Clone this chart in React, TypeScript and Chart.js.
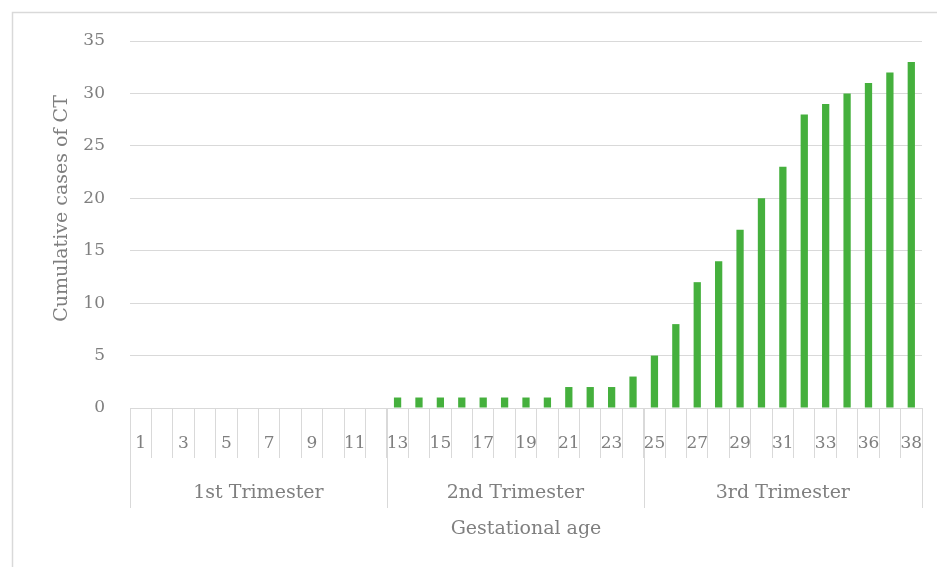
import React, { useEffect, useRef } from "react";
import { Chart, registerables } from "chart.js";

Chart.register(...registerables);

const categories = [
  "1", "2", "3", "4", "5", "6", "7", "8", "9", "10", "11", "12",
  "13", "14", "15", "16", "17", "18", "19", "20", "21", "22", "23", "24",
  "25", "26", "27", "28", "29", "30", "31", "32", "33", "34", "36", "37", "38",
];
const cumulativeCases = [
  0, 0, 0, 0, 0, 0, 0, 0, 0, 0, 0, 0,
  1, 1, 1, 1, 1, 1, 1, 1, 2, 2, 2, 3,
  5, 8, 12, 14, 17, 20, 23, 28, 29, 30, 31, 32, 33,
];
const groupLabels = ["1st Trimester", "2nd Trimester", "3rd Trimester"];
const groupSizes = [12, 12, 13];
const yTitle = "Cumulative cases of CT";
const xTitle = "Gestational age";

const FONT = "'DejaVu Serif', 'Liberation Serif', serif";
const TEXT = "#7f7f7f";
const LINE = "#d9d9d9";

const groupPlugin = {
  id: "groups",
  beforeDraw(chart: any) {
    const ctx = chart.ctx;
    ctx.save();
    ctx.fillStyle = "#ffffff";
    ctx.fillRect(0, 0, chart.width, chart.height);
    ctx.strokeStyle = LINE;
    ctx.lineWidth = 1.5;
    ctx.strokeRect(12.5, 12.5, chart.width + 20, chart.height + 20);
    ctx.restore();
  },
  afterDraw(chart: any) {
    const ctx = chart.ctx;
    const x = chart.scales.x;
    const y = chart.scales.y;
    const top = x.top;
    const step = (x.right - x.left) / categories.length;
    ctx.save();
    ctx.strokeStyle = LINE;
    ctx.lineWidth = 1;
    ctx.fillStyle = TEXT;
    ctx.font = `19px ${FONT}`;
    ctx.textAlign = "center";
    ctx.textBaseline = "middle";
    let start = 0;
    const bounds: number[] = [];
    groupSizes.forEach((n, gi) => {
      const l = x.getPixelForValue(start) - step / 2;
      const r = x.getPixelForValue(start + n - 1) + step / 2;
      bounds.push(l);
      if (gi === groupSizes.length - 1) bounds.push(r);
      ctx.fillText(groupLabels[gi], (l + r) / 2, top + 85);
      start += n;
    });
    bounds.forEach((b) => {
      const bx = Math.round(b) + 0.5;
      ctx.beginPath();
      ctx.moveTo(bx, top);
      ctx.lineTo(bx, top + 100);
      ctx.stroke();
    });
    // y-axis title
    ctx.translate(62, (y.top + y.bottom) / 2 - 16);
    ctx.rotate(-Math.PI / 2);
    ctx.fillText(yTitle, 0, 0);
    ctx.restore();
  },
};

export default function App() {
  const ref = useRef<HTMLCanvasElement>(null);
  useEffect(() => {
    if (!ref.current) return;
    const chart = new Chart(ref.current, {
      type: "bar",
      data: {
        labels: categories,
        datasets: [
          {
            label: yTitle,
            data: cumulativeCases,
            backgroundColor: "#45b03d",
            categoryPercentage: 1,
            barPercentage: 0.34,
          },
        ],
      },
      options: {
        animation: false,
        responsive: false,
        maintainAspectRatio: false,
        layout: { padding: { top: 41, right: 15, left: 0, bottom: 0 } },
        plugins: { legend: { display: false }, tooltip: { enabled: false } },
        scales: {
          x: {
            afterFit: (s: any) => {
              s.height = 159;
            },
            grid: {
              color: LINE,
              drawOnChartArea: false,
              offset: true,
              tickLength: 50,
            },
            border: { color: LINE },
            ticks: {
              autoSkip: false,
              maxRotation: 0,
              padding: -25,
              color: TEXT,
              font: { family: FONT, size: 17 },
              callback: (_v: any, i: number) => (i % 2 === 0 ? categories[i] : ""),
            },
            title: {
              display: true,
              text: xTitle,
              color: TEXT,
              font: { family: FONT, size: 19 },
              padding: { top: 0, bottom: 27 },
            },
          },
          y: {
            min: 0,
            max: 35,
            afterFit: (s: any) => {
              s.width = 130;
            },
            grid: { color: LINE, drawTicks: false },
            border: { display: false },
            ticks: {
              stepSize: 5,
              padding: 25,
              color: TEXT,
              font: { family: FONT, size: 17 },
            },
            title: { display: false },
          },
        },
      },
      plugins: [groupPlugin],
    });
    return () => chart.destroy();
  }, []);
  return (
    <div style={{ position: "fixed", left: 0, top: 0, width: 937, height: 567 }}>
      <canvas ref={ref} width={937} height={567} style={{ width: 937, height: 567 }} />
    </div>
  );
}
